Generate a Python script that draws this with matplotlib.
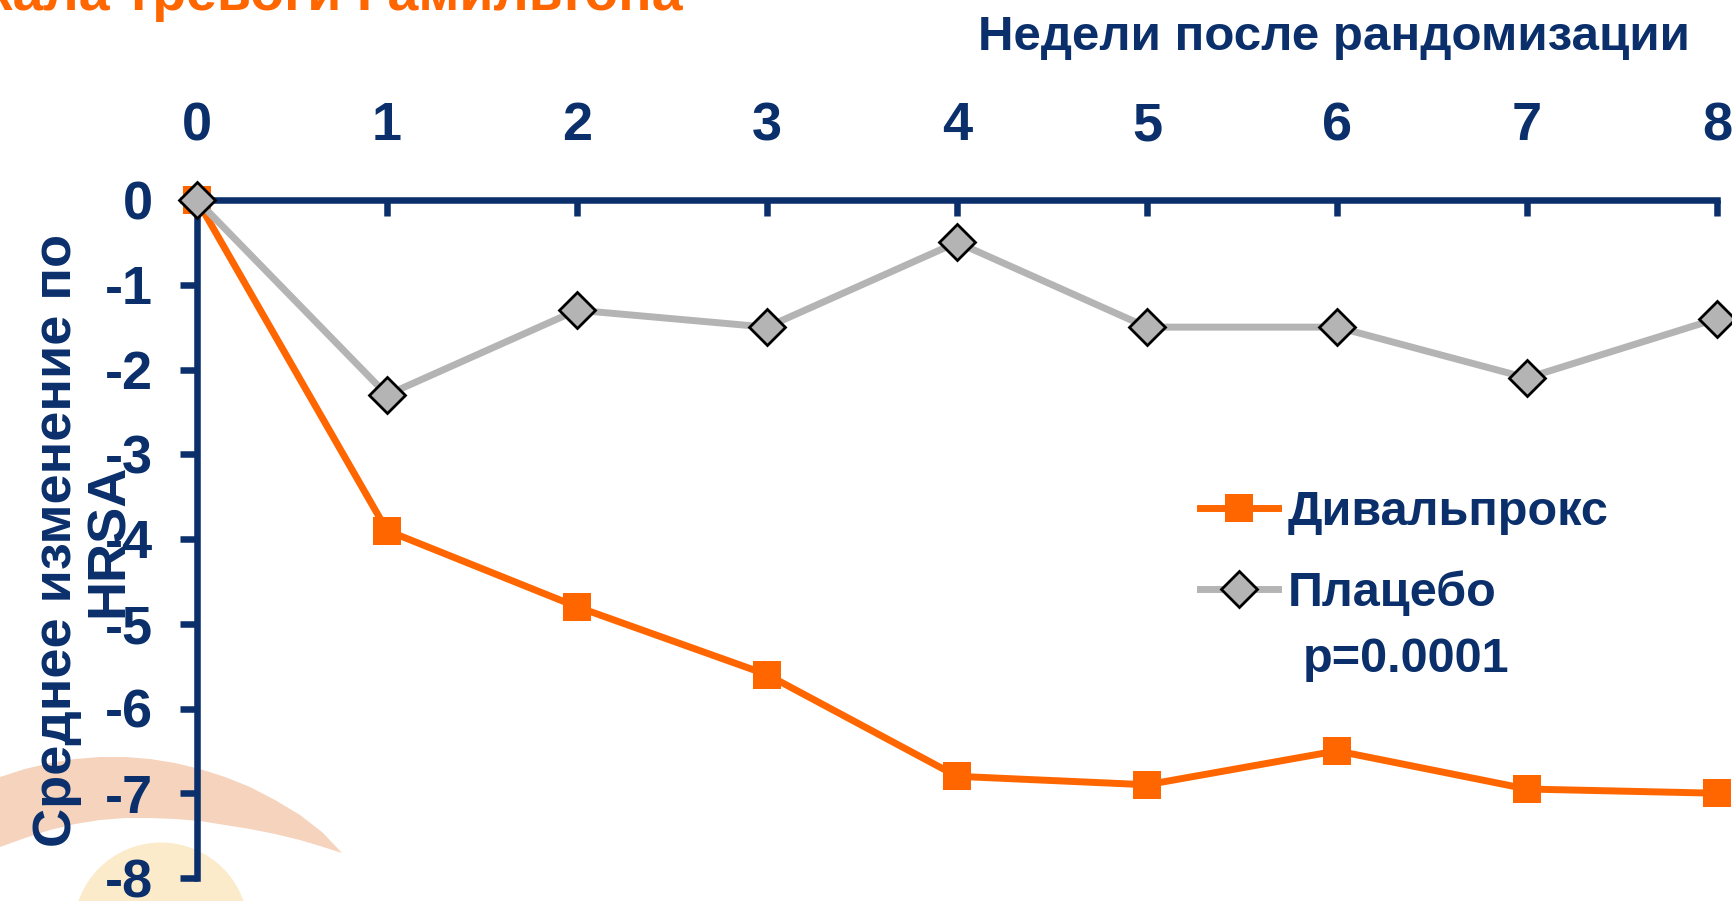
import matplotlib
matplotlib.use('Agg')
import matplotlib.pyplot as plt
from matplotlib.patches import Polygon, Ellipse

plt.rcParams['font.family'] = ['Liberation Sans', 'DejaVu Sans']
plt.rcParams['font.weight'] = 'bold'
plt.rcParams['axes.unicode_minus'] = False

# data
weeks = [0, 1, 2, 3, 4, 5, 6, 7, 8]
divalproex = [0, -3.9, -4.8, -5.6, -6.8, -6.9, -6.5, -6.95, -7.0]
placebo = [0, -2.3, -1.3, -1.5, -0.5, -1.5, -1.5, -2.1, -1.4]
y_ticks = [0, -1, -2, -3, -4, -5, -6, -7, -8]
series_names = ['Дивальпрокс', 'Плацебо']

navy = '#0A2F6B'
orange = '#FF6600'
W, H = 1732, 901

fig = plt.figure(figsize=(W / 100, H / 100), dpi=100)

# background decoration (pixel coords)
bg = fig.add_axes([0, 0, 1, 1], zorder=-1)
bg.set_xlim(0, W)
bg.set_ylim(H, 0)
bg.axis('off')
arc_top = [(0, 777), (25, 769), (50, 763), (75, 759), (100, 757), (125, 757), (150, 759), (175, 763),
           (200, 769), (225, 777), (250, 787), (275, 800), (300, 815), (322, 832), (342, 853)]
arc_bot = [(320, 846), (300, 840), (275, 834), (250, 829), (225, 825), (200, 821), (175, 819),
           (150, 818), (125, 818), (100, 820), (75, 824), (50, 830), (25, 838), (0, 847)]
bg.add_patch(Polygon(arc_top + arc_bot, closed=True, fc='#F5D3BD', ec='none'))
bg.add_patch(Ellipse((161, 930), 175, 175, fc='#FBEBCB', ec='none'))

ax = fig.add_axes([197 / W, 23 / H, 1520 / W, 678 / H])
ax.set_facecolor('none')
ax.plot(weeks, divalproex, color=orange, lw=5, marker='s', ms=20, mec=orange, mew=0,
        label=series_names[0], clip_on=False, zorder=3)
ax.plot(weeks, placebo, color='#B4B4B4', lw=5, marker='D', ms=18.5, mfc='#B4B4B4', mec='black',
        mew=2, label=series_names[1], clip_on=False, zorder=4)

ax.set_xlim(0, 8)
ax.set_ylim(-8, 0)
ax.set_xticks(weeks)
ax.set_yticks(y_ticks)
for s in ['right', 'bottom']:
    ax.spines[s].set_visible(False)
for s in ['top', 'left']:
    ax.spines[s].set_color(navy)
    ax.spines[s].set_linewidth(4.7)
ax.tick_params(axis='x', top=True, bottom=False, labeltop=True, labelbottom=False,
               direction='in', length=11.5, width=4.7, color=navy, pad=35,
               labelsize=39, labelcolor=navy)
ax.tick_params(axis='y', direction='out', length=12, width=4.7, color=navy, pad=20,
               labelsize=39, labelcolor=navy)

leg = ax.legend(loc='upper left', bbox_to_anchor=(1200 / W, 1 - 490 / H), bbox_transform=fig.transFigure,
                frameon=False, fontsize=35, handlelength=1.6, handletextpad=0.2, labelspacing=0.72,
                borderpad=0, borderaxespad=0)
for t in leg.get_texts():
    t.set_color(navy)

fig.text(1303 / W, 1 - 659 / H, 'p=0.0001', fontsize=35, color=navy, ha='left', va='center')
fig.text(1334 / W, 1 - 50 / H, 'Недели после рандомизации', fontsize=35.5, color=navy,
         ha='center', va='baseline')
fig.text(83 / W, 1 - 540 / H, 'Среднее изменение по\nHRSA', fontsize=39, color=navy,
         rotation=90, ha='center', va='center', multialignment='center', linespacing=1.05)
fig.text(683 / W, 1 - 10 / H, 'Шкала тревоги Гамильтона', fontsize=40, color=orange,
         ha='right', va='baseline')

fig.savefig('out.png', dpi=100)
